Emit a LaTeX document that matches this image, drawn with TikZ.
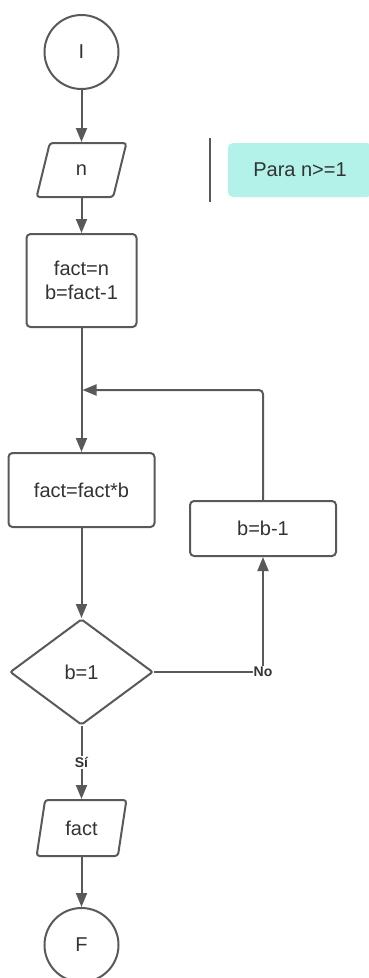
\documentclass[tikz,border=0pt]{standalone}
\usepackage{fontspec}
\setmainfont{Liberation Sans}
\usetikzlibrary{shapes.geometric,arrows.meta}
\definecolor{ln}{RGB}{89,89,89}
\definecolor{tx}{RGB}{51,51,51}
\definecolor{notefill}{RGB}{179,242,232}
\begin{document}
\begin{tikzpicture}[x=1pt,y=-1pt,
  every node/.style={text=tx, font=\fontsize{20}{24}\selectfont},
  box/.style={draw=ln, line width=2pt, rounded corners=4pt, rectangle},
  term/.style={draw=ln, line width=2pt, circle, minimum size=74pt, inner sep=0pt},
  io/.style={draw=ln, line width=2pt, trapezium, trapezium left angle=78, trapezium right angle=102, trapezium stretches=true, rounded corners=3pt, minimum width=90pt},
  dec/.style={draw=ln, line width=2pt, diamond, minimum width=143pt, minimum height=106pt, inner sep=0pt, rounded corners=2pt},
  flow/.style={draw=ln, line width=2pt, -{Triangle[length=14pt,width=11pt]}},
  lbl/.style={fill=white, font=\fontsize{14}{16}\bfseries\selectfont, inner sep=1pt}
]
\useasboundingbox (0,0) rectangle (369,978);
\node[term] (I) at (81.5,52) {I};
\node[io, minimum height=54pt] (n) at (81.5,170) {n};
\node[box, minimum width=110pt, minimum height=93pt, align=center] (init) at (81.5,280.5) {fact=n\\b=fact-1};
\node[box, minimum width=146pt, minimum height=74pt] (mul) at (81.5,490) {fact=fact*b};
\node[box, minimum width=146pt, minimum height=55pt] (dec1) at (263,528.5) {b=b-1};
\node[dec] (cond) at (81.5,672) {b=1};
\node[io, minimum height=56pt] (out) at (81.5,828) {fact};
\node[term] (F) at (81.5,945) {F};
\node[fill=notefill, rounded corners=5pt, minimum width=144pt, minimum height=54pt] (note) at (300,170) {Para n>=1};
\coordinate (barT) at (210,138);
\coordinate (barB) at (210,202);
\draw[ln, line width=2pt] (barT) -- (barB);
\coordinate (join) at (82.5,390);

\draw[flow] (I) -- (n);
\draw[flow] (n) -- (init);
\draw[flow] (init) -- (mul);
\draw[flow] (mul) -- (cond);
\draw[flow] (cond) -- node[lbl]{Sí} (out);
\draw[flow] (out) -- (F);
\draw[flow] (cond.east) -| node[lbl, pos=0.5]{No} (dec1);
\draw[flow, rounded corners=4pt] (dec1.north) |- (join);
\end{tikzpicture}
\end{document}
